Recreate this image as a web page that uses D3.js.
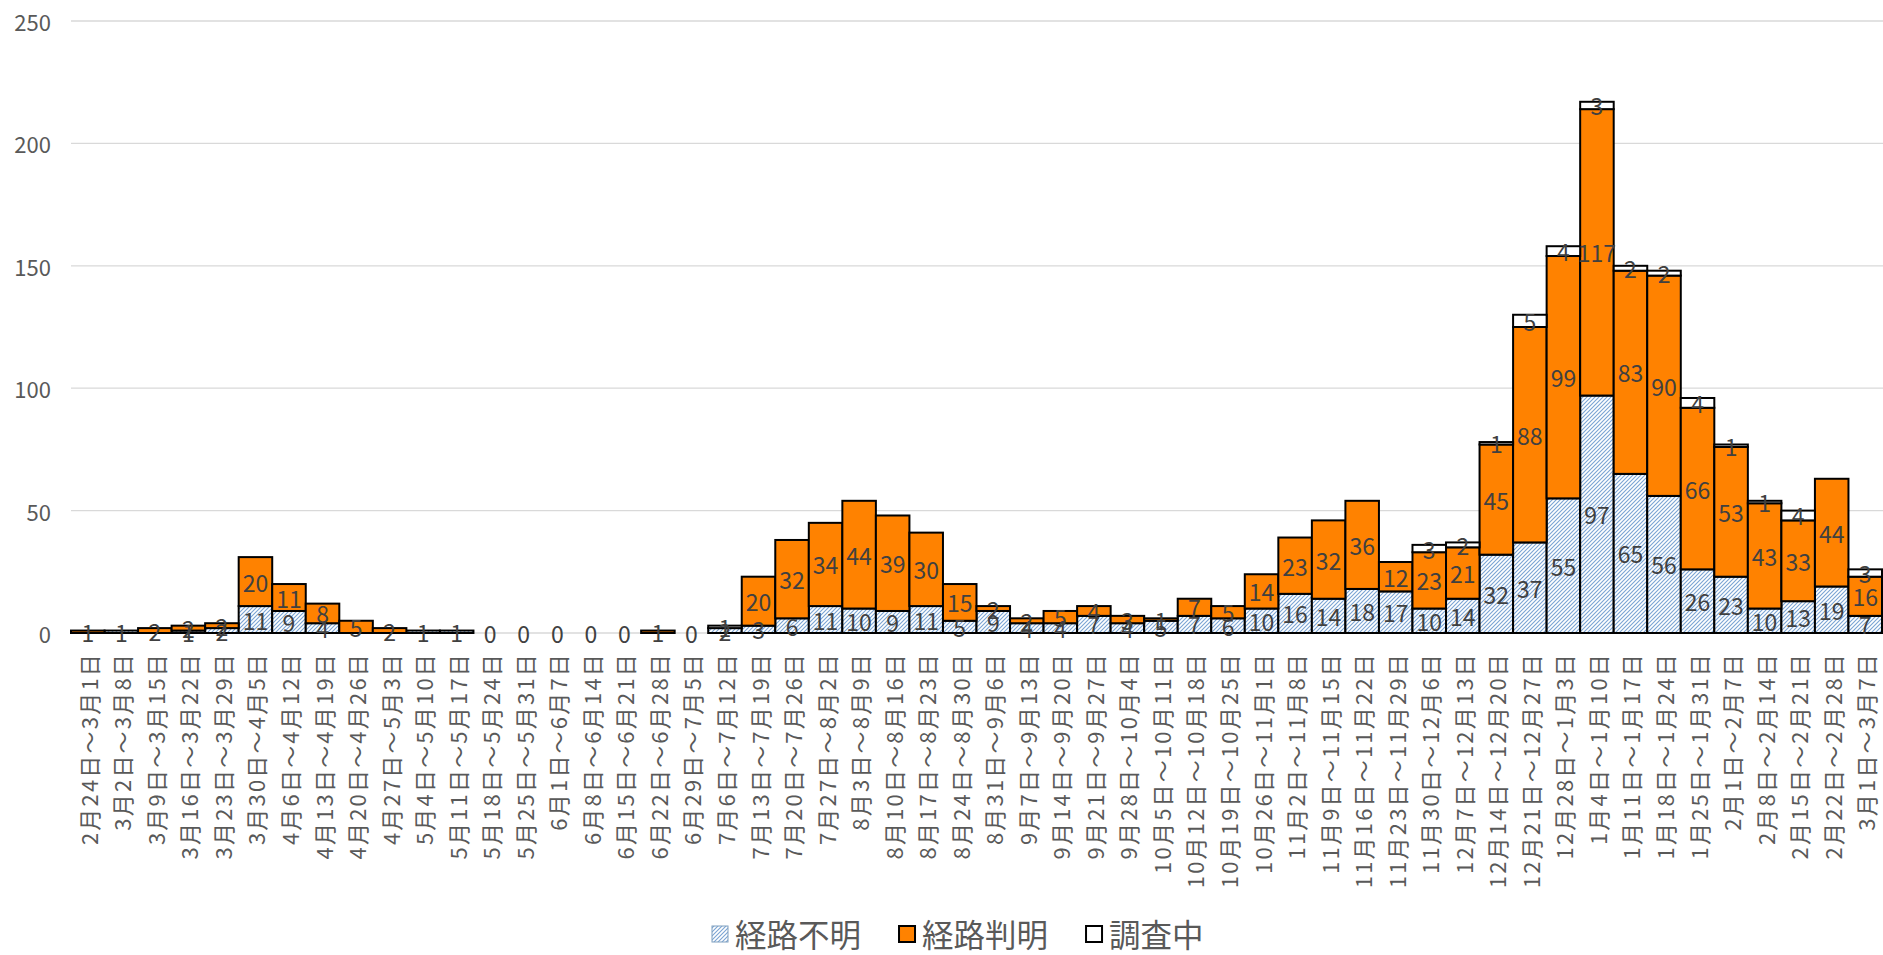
<!DOCTYPE html>
<html>
<head>
<meta charset="utf-8">
<script src="https://cdn.jsdelivr.net/npm/d3@7"></script>
<style>
  html, body { margin: 0; padding: 0; background: #fff; }
  svg { display: block; }
</style>
</head>
<body>
<svg id="chart" width="1883" height="955"></svg>
<script>
const categories = [
  "2月24日～3月1日","3月2日～3月8日","3月9日～3月15日","3月16日～3月22日","3月23日～3月29日",
  "3月30日～4月5日","4月6日～4月12日","4月13日～4月19日","4月20日～4月26日","4月27日～5月3日",
  "5月4日～5月10日","5月11日～5月17日","5月18日～5月24日","5月25日～5月31日","6月1日～6月7日",
  "6月8日～6月14日","6月15日～6月21日","6月22日～6月28日","6月29日～7月5日","7月6日～7月12日",
  "7月13日～7月19日","7月20日～7月26日","7月27日～8月2日","8月3日～8月9日","8月10日～8月16日",
  "8月17日～8月23日","8月24日～8月30日","8月31日～9月6日","9月7日～9月13日","9月14日～9月20日",
  "9月21日～9月27日","9月28日～10月4日","10月5日～10月11日","10月12日～10月18日","10月19日～10月25日",
  "10月26日～11月1日","11月2日～11月8日","11月9日～11月15日","11月16日～11月22日","11月23日～11月29日",
  "11月30日～12月6日","12月7日～12月13日","12月14日～12月20日","12月21日～12月27日","12月28日～1月3日",
  "1月4日～1月10日","1月11日～1月17日","1月18日～1月24日","1月25日～1月31日","2月1日～2月7日",
  "2月8日～2月14日","2月15日～2月21日","2月22日～2月28日","3月1日～3月7日"
];

// 経路不明
const unknownRoute = [
  null,1,null,1,2, 11,9,4,null,null, 1,1,0,0,0, 0,0,null,0,2,
  3,6,11,10,9, 11,5,9,4,4, 7,4,5,7,6, 10,16,14,18,17,
  10,14,32,37,55, 97,65,56,26,23, 10,13,19,7
];
// 経路判明
const knownRoute = [
  1,null,2,2,2, 20,11,8,5,2, null,null,null,null,null, null,null,1,null,null,
  20,32,34,44,39, 30,15,2,2,5, 4,3,1,7,5, 14,23,32,36,12,
  23,21,45,88,99, 117,83,90,66,53, 43,33,44,16
];
// 調査中
const investigating = [
  null,null,null,null,null, null,null,null,null,null, null,null,null,null,null, null,null,null,null,1,
  null,null,null,null,null, null,null,null,null,null, null,null,null,null,null, null,null,null,null,null,
  3,2,1,5,4, 3,2,2,4,1, 1,4,null,3
];

const seriesNames = ["経路不明", "経路判明", "調査中"];
const yTicks = [0, 50, 100, 150, 200, 250];

const svg = d3.select("#chart");
const W = 1883, H = 955;
const plotLeft = 71, plotRight = 1882, plotTop = 21, plotBottom = 633;

const defs = svg.append("defs");
const pat = defs.append("pattern")
  .attr("id", "hatch").attr("patternUnits", "userSpaceOnUse")
  .attr("width", 4).attr("height", 4);
pat.append("rect").attr("width", 4).attr("height", 4).attr("fill", "#ffffff");
pat.append("path")
  .attr("d", "M-1,1 L1,-1 M0,4 L4,0 M3,5 L5,3")
  .attr("stroke", "#7AA3D3").attr("stroke-width", 1.1);

const fills = ["url(#hatch)", "#FF8200", "#ffffff"];

const x = d3.scaleBand().domain(categories).range([plotLeft, plotRight]).padding(0);
const y = d3.scaleLinear().domain([0, 250]).range([plotBottom, plotTop]);

// gridlines
svg.append("g").selectAll("line").data(yTicks).join("line")
  .attr("x1", plotLeft).attr("x2", W)
  .attr("y1", d => y(d)).attr("y2", d => y(d))
  .attr("stroke", "#D9D9D9").attr("stroke-width", 1.3);

// y labels
svg.append("g").selectAll("text").data(yTicks).join("text")
  .attr("x", 51).attr("y", d => y(d))
  .attr("text-anchor", "end").attr("dominant-baseline", "central")
  .attr("font-family", "'Noto Sans CJK JP', sans-serif")
  .attr("font-size", 22).attr("fill", "#595959")
  .text(d => d);

// stacked data
const rows = categories.map((c, i) => ({
  cat: c, i,
  "経路不明": unknownRoute[i], "経路判明": knownRoute[i], "調査中": investigating[i]
}));
const stack = d3.stack().keys(seriesNames).value((d, k) => d[k] == null ? 0 : d[k]);
const stacked = stack(rows);

const barsG = svg.append("g");
stacked.forEach((layer, si) => {
  barsG.append("g").selectAll("rect")
    .data(layer.filter(s => s[1] - s[0] > 0))
    .join("rect")
    .attr("x", s => x(s.data.cat))
    .attr("width", x.bandwidth())
    .attr("y", s => y(s[1]))
    .attr("height", s => y(s[0]) - y(s[1]))
    .attr("fill", fills[si])
    .attr("stroke", "#000").attr("stroke-width", 2);
});

// data labels
const labelsG = svg.append("g");
stacked.forEach((layer, si) => {
  const key = seriesNames[si];
  labelsG.append("g").selectAll("text")
    .data(layer.filter(s => s.data[key] != null))
    .join("text")
    .attr("x", s => x(s.data.cat) + x.bandwidth() / 2)
    .attr("y", s => y((s[0] + s[1]) / 2))
    .attr("text-anchor", "middle").attr("dominant-baseline", "central")
    .attr("font-family", "'Noto Sans CJK JP', sans-serif")
    .attr("font-size", 23).attr("fill", "#404040")
    .text(s => s.data[key]);
});

// x labels
svg.append("g").selectAll("text").data(categories).join("text")
  .attr("transform", d => `translate(${x(d) + x.bandwidth() / 2},652) rotate(-90)`)
  .attr("text-anchor", "end").attr("dominant-baseline", "central")
  .attr("font-family", "'Noto Sans CJK JP', sans-serif")
  .attr("font-size", 22).attr("letter-spacing", 2.2).attr("fill", "#595959")
  .text(d => d);

// legend
const legendG = svg.append("g");
const legendY = 933;
const sym = 16, gapSymText = 7, gapItems = 38;
let lx = 712;
seriesNames.forEach((n, i) => {
  const g = legendG.append("g").attr("transform", `translate(${lx},0)`);
  g.append("rect").attr("x", 0).attr("y", legendY - sym / 2 + 1).attr("width", sym).attr("height", sym)
    .attr("fill", fills[i]).attr("stroke", i === 0 ? "#7f9fbf" : "#000").attr("stroke-width", i === 0 ? 1 : 2);
  const t = g.append("text").attr("x", sym + gapSymText).attr("y", legendY)
    .attr("dominant-baseline", "central")
    .attr("font-family", "'Noto Sans CJK JP', sans-serif")
    .attr("font-size", 31.5).attr("fill", "#595959").text(n);
  lx += sym + gapSymText + t.node().getComputedTextLength() + gapItems;
});
</script>
</body>
</html>
